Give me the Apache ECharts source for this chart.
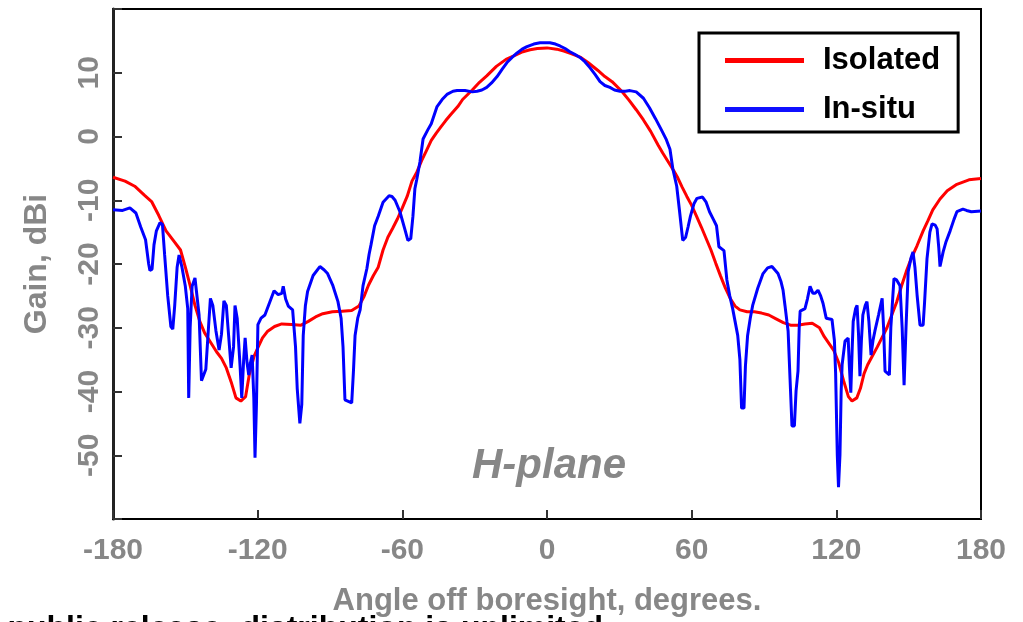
<!DOCTYPE html>
<html>
<head>
<meta charset="utf-8">
<title>H-plane gain pattern</title>
<script src="https://cdn.jsdelivr.net/npm/echarts@6/dist/echarts.min.js"></script>
<style>
  html, body { margin: 0; padding: 0; background: #fff; }
  #chart { width: 1023px; height: 622px; }
</style>
</head>
<body>
<div id="chart"></div>
<script>
// Gain pattern (dBi) versus angle off boresight (degrees), H-plane cut.
const seriesNames = ['Isolated', 'In-situ'];

const isolatedAngles = [
  -180, -175, -171, -167, -164, -161, -158, -155, -152, -150, -148, -146, -144, -142, -140,
  -137, -135, -133, -131, -129, -127, -125, -123.5, -121.5, -120, -118, -116, -113, -110,
  -106, -102, -99, -96, -93, -89, -85, -81, -78, -76, -74, -72, -70, -68, -66, -64, -62,
  -60, -58, -56, -54, -52, -50, -48, -46, -44, -42, -40, -37, -35, -31, -28, -25, -21, -17,
  -14, -10, -7, -4, 0, 4, 7, 10, 14, 17, 21, 24, 27, 31, 34, 37, 40, 43, 46, 48, 50, 52,
  54, 56, 58, 60, 62, 64, 66, 68, 70, 72, 74, 76, 78, 80, 83, 86, 89, 92, 95, 98, 101, 104,
  107, 110, 113, 115, 117, 119, 121, 123, 125, 126.5, 128.5, 130, 131.5, 133, 135, 137,
  139, 141, 143, 145, 147, 149, 151, 153.5, 156, 158, 160, 163, 166, 170, 175, 180
];
const isolatedGain = [
  -6.4, -7.0, -7.8, -9.2, -10.2, -12.4, -14.8, -16.3, -17.8, -20.5, -23.4, -26.5, -29.0, -30.8, -32.0,
  -33.8, -34.8, -36.3, -38.5, -41.0, -41.5, -40.8, -37.4, -34.5, -33.2, -31.6, -30.6, -29.8, -29.4,
  -29.5, -29.6, -29.0, -28.3, -27.8, -27.5, -27.4, -27.3, -26.6, -25.2, -23.3, -21.8, -20.5, -17.8, -15.8, -14.4, -12.9,
  -11.2, -9.4, -7.0, -5.6, -3.8, -2.2, -0.6, 0.5, 1.5, 2.5, 3.4, 4.7, 5.8, 7.3, 8.5, 9.5, 11.0, 12.1,
  12.6, 13.3, 13.6, 13.8, 13.9, 13.7, 13.4, 13.0, 12.4, 11.6, 10.4, 9.4, 8.6, 7.1, 5.7, 4.2, 2.6, 0.8, -1.3, -2.6, -3.8, -5.0,
  -6.3, -7.9, -9.4, -10.8, -12.5, -14.2, -16.0, -17.8, -19.9, -21.9, -23.8, -25.4, -26.6, -27.2, -27.5, -27.5, -27.7, -28.0, -28.6, -29.2, -29.6, -29.6,
  -29.4, -29.3, -30.0, -31.4, -32.5, -33.6, -35.5, -38.3, -40.8, -41.5, -41.0, -39.5, -37.2, -35.8, -34.4, -33.0,
  -31.5, -30.0, -28.0, -26.0, -23.5, -21.2, -19.2, -17.1, -14.8, -13.2, -11.5, -9.8, -8.5, -7.5, -6.8, -6.6
];

const insituAngles = [
  -180, -176, -173, -170.5, -168.5, -166.5, -165.2, -164.7, -163.8, -163, -162, -160.5, -159.5, -158.6,
  -157.3, -156, -155.2, -154.4, -153.4, -152.6, -151.4, -150, -149, -148.6, -148, -147.2, -146, -145.2,
  -144.3, -143.3, -141.5, -140.4, -139.6, -138.6, -137.3, -136, -135, -134, -133, -132.3, -131, -130,
  -129.4, -128.5, -127.3, -126.6, -125.8, -125.2, -124.4, -123.7, -123, -122.3, -121.6, -121.1, -120.5,
  -119.9, -118.6, -117, -115, -113.2, -111.5, -110, -109.4, -108.4, -107.3, -105.5, -104.3, -103.6,
  -102.5, -101.7, -101.1, -100.2, -99.3, -97, -94.2, -92.5, -91, -88.8, -86.7, -85.4, -84.6, -83.8,
  -81, -80.3, -79.6, -78.5, -77.5, -76.3, -74.7, -73.8, -73, -71.5, -70, -68, -65.5, -64.3, -63, -61,
  -59, -57.7, -56.5, -55.6, -54.8, -54, -52.7, -51.4, -49.5, -48, -45.6, -43.5, -41.5, -39, -37.3,
  -34, -31, -29, -27, -25, -23, -20.7, -18.5, -16.6, -14.5, -12.4, -10.3, -8.3, -5.5, -2.9, 1.2, 3.5,
  5.4, 7.5, 9.5, 11.5, 13.7, 15.8, 17.8, 20, 22, 24, 26.1, 28, 30.3, 32.5, 34.4, 37, 40, 42.5, 45,
  47.5, 49.5, 51, 52.2, 53.8, 55, 56.3, 57.5, 58.5, 59.5, 61, 62.2, 64.5, 66, 67.4, 69, 70.3, 71.3,
  73.4, 74.6, 75.8, 77, 78, 79.1, 80, 80.7, 81.7, 82.3, 83.2, 84.3, 85.3, 87.4, 89.6, 91.5, 93.3, 95.8,
  97, 97.9, 98.7, 99.5, 100, 100.8, 101.6, 102.6, 103.3, 104.1, 104.6, 105, 107, 108, 109.1, 110.3,
  111.2, 112.4, 113.5, 114.5, 115.8, 118.2, 119.2, 119.7, 120.4, 120.9, 121.5, 122, 122.4, 123.6,
  124.9, 125.4, 126, 126.6, 127, 128, 128.6, 129.2, 129.8, 130.4, 131, 132, 132.7, 133.5, 134.4,
  135.2, 136, 137.5, 139, 139.6, 140.2, 142, 142.6, 143.9, 145, 146.4, 147.3, 148.1, 148.9, 149.8,
  151, 151.8, 152.6, 153.5, 154.7, 156, 156.6, 157.6, 158.8, 159.7, 161, 161.8, 162.5, 163, 164.3,
  165.5, 167.2, 168.8, 170, 172.5, 174, 176, 180
];
const insituGain = [
  -11.5, -11.6, -11.2, -12.0, -14.2, -16.2, -20.0, -21.0, -20.8, -17.0, -14.8, -13.5, -13.8, -18.5,
  -25.0, -29.8, -30.2, -26.5, -20.5, -18.6, -20.5, -23.5, -27.0, -41.0, -30.0, -23.5, -22.2, -22.5,
  -28.0, -38.3, -36.5, -30.0, -25.4, -26.5, -30.5, -33.5, -31.0, -25.8, -26.5, -30.0, -36.3, -33.0,
  -26.5, -28.5, -36.0, -41.0, -35.0, -31.6, -35.5, -37.4, -35.5, -34.3, -41.0, -50.4, -42.0,
  -29.5, -28.5, -28.0, -26.0, -24.2, -24.8, -24.6, -23.5, -25.5, -26.6, -27.2, -33.0, -39.5,
  -45.0, -42.0, -31.2, -26.5, -24.3, -21.8, -20.4, -20.9, -21.5, -23.4, -25.9, -28.5, -33.0, -41.3,
  -41.8, -37.0, -31.2, -28.5, -27.2, -23.4, -20.7, -18.5, -17.0, -14.0, -12.5, -10.3, -9.3, -9.4, -10.0, -11.8,
  -14.5, -16.3, -16.0, -12.5, -8.2, -6.7, -4.0, -0.4, 1.0, 2.0, 4.7, 5.8, 6.6, 7.1, 7.2,
  7.2, 7.0, 7.1, 7.3, 7.7, 8.4, 9.4, 10.6, 11.6, 12.4, 13.1, 13.7, 14.1, 14.5, 14.7, 14.7, 14.5,
  14.2, 13.8, 13.3, 12.9, 12.4, 11.7, 10.8, 9.7, 8.6, 8.0, 7.7, 7.3, 7.1, 7.1, 7.2, 7.0, 6.0, 4.5, 2.8,
  1.0, -0.5, -2.0, -5.1, -7.8, -11.8, -16.3, -15.8, -14.2, -12.5, -10.5, -9.7, -9.5, -10.3, -11.8, -13.0, -14.0, -17.3,
  -17.9, -22.5, -25.0, -27.0, -29.0, -31.2, -35.0, -42.6, -42.6, -36.0, -31.2, -28.5, -26.5, -23.8, -21.5, -20.6, -20.4, -21.5,
  -22.7, -24.1, -26.5, -29.0, -30.5, -38.0, -45.4, -45.4, -39.9, -36.8, -30.0, -27.4, -27.0, -25.5, -23.5, -24.6,
  -24.6, -24.1, -25.0, -26.2, -28.5, -28.7, -32.0, -37.1, -50.0, -55.0, -50.0, -40.0, -35.8, -32.1,
  -31.6, -36.0, -40.2, -33.0, -29.0, -27.0, -26.5, -31.0, -37.6, -32.0, -28.0, -26.5, -25.9, -29.0, -34.3,
  -32.0, -30.5, -28.0, -25.4, -30.0, -36.8, -37.4, -30.0, -22.3, -22.5, -23.4, -30.0, -39.0, -30.0, -21.2,
  -19.0, -18.1, -20.5, -24.9, -29.6, -29.6, -26.0, -19.2, -15.0, -13.7, -13.9, -14.5, -17.5, -20.4, -18.1,
  -16.5, -14.8, -13.0, -11.8, -11.4, -11.6, -11.8, -11.7
];

const xTicks = [-180, -120, -60, 0, 60, 120, 180];
const yTickLabels = [-50, -40, -30, -20, -10, 0, 10];

const pair = (xs, ys) => xs.map((x, i) => [x, ys[i]]);

const GRAY = '#878787';
const FONT = '"Liberation Sans", Arial, sans-serif';

const chart = echarts.init(document.getElementById('chart'), null, { renderer: 'canvas' });

chart.setOption({
  animation: false,
  backgroundColor: '#fff',
  grid: {
    left: 113, right: 42, top: 9, bottom: 100,
    show: true, borderColor: '#000', borderWidth: 2, backgroundColor: 'transparent'
  },
  xAxis: {
    type: 'value',
    min: -180, max: 180, interval: 60,
    name: 'Angle off boresight, degrees.',
    nameLocation: 'middle',
    nameGap: 67,
    nameTextStyle: { color: GRAY, fontSize: 31, fontWeight: 'bold', fontFamily: FONT },
    axisLine: { show: true, onZero: false, lineStyle: { color: '#000', width: 2 } },
    axisTick: { show: true, inside: true, length: 9, lineStyle: { color: '#333', width: 2 } },
    axisLabel: {
      color: GRAY, fontSize: 30, fontWeight: 'bold', fontFamily: FONT, margin: 17,
      showMinLabel: true, showMaxLabel: true,
      formatter: v => (xTicks.includes(v) ? String(v) : '')
    },
    splitLine: { show: false }
  },
  yAxis: {
    type: 'value',
    min: -60, max: 20, interval: 10,
    name: 'Gain, dBi',
    nameLocation: 'middle',
    nameGap: 60,
    nameRotate: 90,
    nameTextStyle: { color: GRAY, fontSize: 32, fontWeight: 'bold', fontFamily: FONT },
    axisLine: { show: true, onZero: false, lineStyle: { color: '#222', width: 3 } },
    axisTick: { show: true, inside: true, length: 9, lineStyle: { color: '#333', width: 2 } },
    axisLabel: {
      color: GRAY, fontSize: 30, fontWeight: 'bold', fontFamily: FONT, rotate: 90, margin: 8,
      formatter: v => (yTickLabels.includes(v) ? String(v) : '')
    },
    splitLine: { show: false }
  },
  legend: {
    orient: 'vertical',
    left: 699, top: 33,
    padding: [12, 18, 7, 26],
    itemGap: 18,
    itemWidth: 79, itemHeight: 5,
    icon: 'rect',
    borderColor: '#000', borderWidth: 3,
    backgroundColor: '#fff',
    textStyle: { color: '#000', fontSize: 31, fontWeight: 'bold', fontFamily: FONT, padding: [0, 0, 0, 14] },
    data: seriesNames
  },
  graphic: [
    {
      type: 'text', left: 472, top: 445, z: 10,
      style: { text: 'H-plane', fill: GRAY, font: 'italic bold 42px ' + FONT }
    },
    {
      type: 'text', z: 10,
      style: {
        text: 'Approved for public release; distribution is unlimited.',
        x: 612, y: 613, align: 'right', verticalAlign: 'top',
        fill: '#000', font: 'bold 32px ' + FONT
      }
    }
  ],
  series: [
    {
      name: seriesNames[0], type: 'line', data: pair(isolatedAngles, isolatedGain),
      showSymbol: false, symbol: 'none', color: '#ff0000',
      lineStyle: { color: '#ff0000', width: 3 }, z: 3
    },
    {
      name: seriesNames[1], type: 'line', data: pair(insituAngles, insituGain),
      showSymbol: false, symbol: 'none', color: '#1010ff',
      lineStyle: { color: '#0000ff', width: 3 }, z: 4
    }
  ]
});
</script>
</body>
</html>
